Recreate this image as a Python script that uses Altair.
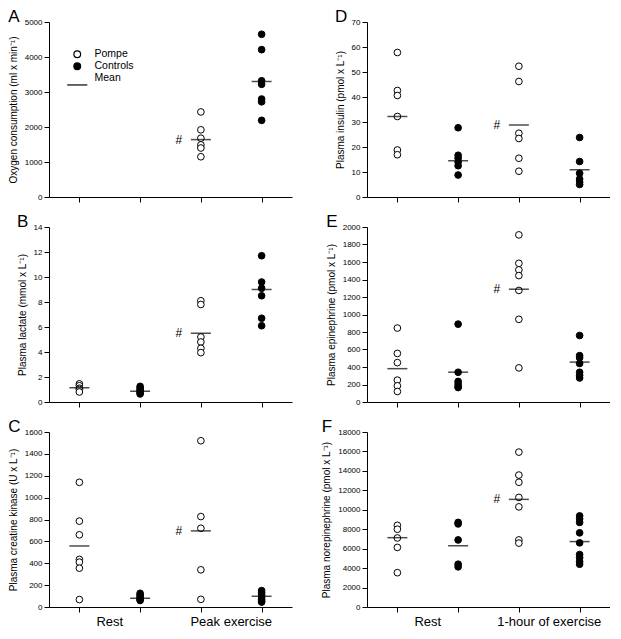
import altair as alt
import pandas as pd

FONT = "Liberation Sans"
GROUPS = ["Pompe", "Controls", "Mean"]

# ---- values (cat 1 = Pompe rest, 2 = Controls rest,
# ---- 3 = Pompe exercise, 4 = Controls exercise)
a_pompe_rest = []
a_ctrl_rest = []
a_pompe_ex = [2430, 1920, 1680, 1490, 1400, 1150]
a_ctrl_ex = [4650, 4210, 3320, 3220, 2800, 2720, 2190]
a_means = [None, None, 1640, 3300]

b_pompe_rest = [1.45, 1.3, 1.1, 1.0, 0.8]
b_ctrl_rest = [1.25, 1.1, 0.95, 0.85, 0.75, 0.65]
b_pompe_ex = [8.1, 7.8, 5.2, 4.8, 4.3, 3.95]
b_ctrl_ex = [11.7, 9.6, 9.1, 8.5, 6.7, 6.1]
b_means = [1.14, 0.86, 5.5, 9.0]

c_pompe_rest = [1140, 785, 660, 435, 410, 355, 68]
c_ctrl_rest = [125, 110, 95, 80, 70, 60]
c_pompe_ex = [1520, 827, 720, 340, 70]
c_ctrl_ex = [150, 130, 110, 90, 70, 55, 45]
c_means = [558, 80, 696, 98]

d_pompe_rest = [57.8, 42.6, 40.6, 32.2, 18.8, 16.9]
d_ctrl_rest = [27.7, 16.7, 15.5, 14.0, 12.5, 8.8]
d_pompe_ex = [52.3, 46.2, 25.5, 23.4, 15.5, 10.3]
d_ctrl_ex = [23.8, 14.2, 9.5, 7.2, 6.0, 5.0]
d_means = [32.2, 14.5, 28.8, 10.9]

e_pompe_rest = [845, 555, 450, 250, 185, 120]
e_ctrl_rest = [890, 340, 235, 205, 175, 165]
e_pompe_ex = [1910, 1585, 1510, 1445, 1275, 945, 390]
e_ctrl_ex = [760, 530, 505, 440, 340, 305, 275]
e_means = [381, 341, 1289, 456]

f_pompe_rest = [8400, 8000, 7100, 6130, 3530]
f_ctrl_rest = [8700, 8550, 6900, 4400, 4130]
f_pompe_ex = [15930, 13570, 12830, 11270, 10300, 6900, 6570]
f_ctrl_ex = [9370, 9070, 8700, 7630, 6600, 5400, 5070, 4670, 4400]
f_means = [7130, 6300, 11070, 6730]

left_labels = ["Rest", "Peak exercise"]
right_labels = ["Rest", "1-hour of exercise"]

W = 243
H = 175
MEAN_SYMBOL = "M-3,2L3,2"


def points_frame(pr, cr, pe, ce):
    rows = []
    for cat, grp, vals in [(1, "Pompe", pr), (2, "Controls", cr),
                           (3, "Pompe", pe), (4, "Controls", ce)]:
        for v in vals:
            rows.append({"cat": cat, "group": grp, "value": v})
    return pd.DataFrame(rows)


def means_frame(means):
    return pd.DataFrame([{"cat": i + 1, "value": m}
                         for i, m in enumerate(means) if m is not None])


def panel(letter, pts, means, ymax, ystep, ytitle, legend=False, labels=None):
    x_enc = alt.X("cat:Q",
                  scale=alt.Scale(domain=[0.5, 4.5], nice=False, zero=False),
                  axis=alt.Axis(values=[1, 2, 3, 4], labels=False, title=None,
                                tickSize=5, grid=False))
    y_enc = alt.Y("value:Q",
                  scale=alt.Scale(domain=[0, ymax], nice=False, zero=True),
                  axis=alt.Axis(values=list(range(0, ymax + 1, ystep)),
                                format="d", title=ytitle, tickSize=5,
                                grid=False))
    if legend:
        leg = alt.Legend(
            orient="none", legendX=23, legendY=27, title=None,
            padding=0, rowPadding=-1,
            labelFontSize=10.5, labelFont=FONT, labelOffset=12,
            labelColor="black", symbolStrokeWidth=1.2, symbolSize=45,
        )
    else:
        leg = None
    pts_layer = alt.Chart(pts).mark_point(
        filled=True, strokeWidth=1, opacity=1, size=45
    ).encode(
        x=x_enc, y=y_enc,
        fill=alt.Fill("group:N", scale=alt.Scale(domain=GROUPS,
                      range=["white", "black", "black"]), legend=leg),
        stroke=alt.Stroke("group:N", scale=alt.Scale(domain=GROUPS,
                          range=["black", "black", "black"]), legend=leg),
        shape=alt.Shape("group:N", scale=alt.Scale(domain=GROUPS,
                        range=["circle", "circle", MEAN_SYMBOL]), legend=leg),
    )
    mdf = means_frame(means)
    mean_layer = alt.Chart(mdf).mark_tick(
        orient="horizontal", size=20, thickness=1.5, color="black"
    ).encode(x=x_enc, y=y_enc)
    hash_layer = alt.Chart(mdf[mdf["cat"] == 3]).mark_text(
        text="#", dx=-22, fontSize=12, font=FONT, color="black"
    ).encode(x=x_enc, y=y_enc)
    layers = [pts_layer, mean_layer, hash_layer]
    if labels:
        ldf = pd.DataFrame({"cat": [1.5, 3.5], "label": labels})
        lab_layer = alt.Chart(ldf).mark_text(
            baseline="top", fontSize=13, font=FONT, color="black"
        ).encode(x=x_enc, y=alt.value(H + 9), text="label:N")
        layers.append(lab_layer)
    return alt.layer(*layers).properties(
        width=W, height=H,
        title=alt.TitleParams(letter, anchor="start", frame="bounds",
                              fontSize=17, fontWeight="normal", font=FONT,
                              color="black", offset=-8),
    )


sup = "\u207b\u00b9"
pA = panel("A", points_frame(a_pompe_rest, a_ctrl_rest, a_pompe_ex, a_ctrl_ex),
           a_means, 5000, 1000, f"Oxygen consumption (ml x min{sup})", legend=True)
pB = panel("B", points_frame(b_pompe_rest, b_ctrl_rest, b_pompe_ex, b_ctrl_ex),
           b_means, 14, 2, f"Plasma lactate (mmol x L{sup})")
pC = panel("C", points_frame(c_pompe_rest, c_ctrl_rest, c_pompe_ex, c_ctrl_ex),
           c_means, 1600, 200, f"Plasma creatine kinase (U x L{sup})",
           labels=left_labels)
pD = panel("D", points_frame(d_pompe_rest, d_ctrl_rest, d_pompe_ex, d_ctrl_ex),
           d_means, 70, 10, f"Plasma insulin (pmol x L{sup})")
pE = panel("E", points_frame(e_pompe_rest, e_ctrl_rest, e_pompe_ex, e_ctrl_ex),
           e_means, 2000, 200, f"Plasma epinephrine (pmol x L{sup})")
pF = panel("F", points_frame(f_pompe_rest, f_ctrl_rest, f_pompe_ex, f_ctrl_ex),
           f_means, 18000, 2000, f"Plasma norepinephrine (pmol x L{sup})",
           labels=right_labels)

ind = dict(fill="independent", stroke="independent", shape="independent")
left = alt.vconcat(pA, pB, pC, spacing=10).resolve_scale(**ind)
right = alt.vconcat(pD, pE, pF, spacing=10).resolve_scale(**ind)
chart = alt.hconcat(left, right, spacing=29).resolve_scale(**ind).properties(
    padding=0
).configure_view(stroke=None).configure_axis(
    domainColor="black", tickColor="black", labelColor="black",
    titleColor="black", labelFont=FONT, titleFont=FONT, labelFontSize=8,
    titleFontSize=10, titleFontWeight="normal", labelPadding=2,
    titlePadding=6, domainWidth=1, tickWidth=1
)

chart.save("out.html", embed_options={"renderer": "svg", "actions": False})
